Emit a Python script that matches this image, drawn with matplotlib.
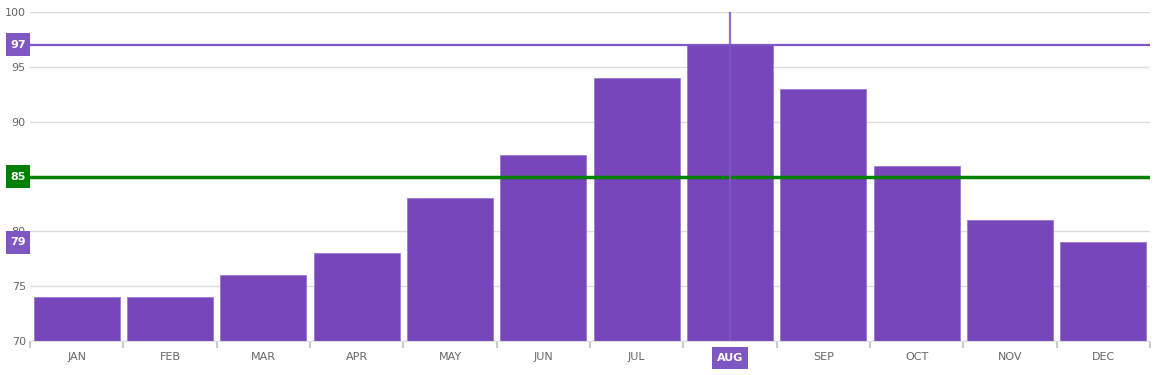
import matplotlib.pyplot as plt
import matplotlib.transforms as mtransforms
from matplotlib.patches import Rectangle
import numpy as np

# data
months = ['JAN', 'FEB', 'MAR', 'APR', 'MAY', 'JUN', 'JUL', 'AUG', 'SEP', 'OCT', 'NOV', 'DEC']
values = [74, 74, 76, 78, 83, 87, 94, 97, 93, 86, 81, 79]
target = 85
max_line = 97
cursor_value = 79
highlight = 'AUG'

bar_color = '#7646BA'
line_purple = '#7E57C2'
green = '#008000'

fig = plt.figure(figsize=(11.65, 3.75), dpi=100)
ax = fig.add_axes([30 / 1165, 34 / 375, 1120 / 1165, 329 / 375])

x = np.arange(len(months))
ax.bar(x, values, width=0.92, color=bar_color, edgecolor='#9a7ad0', linewidth=0.6, zorder=2)

ax.set_xlim(-0.5, len(months) - 0.5)
ax.set_ylim(70, 100)
ax.set_yticks(range(70, 101, 5))
ax.set_axisbelow(True)
ax.grid(axis='y', color='#dddddd', linewidth=1)

for s in ['top', 'right', 'left']:
    ax.spines[s].set_visible(False)
ax.spines['bottom'].set_color('#dddddd')

ax.tick_params(axis='y', length=0, labelsize=8, labelcolor='#666666', pad=3)
# category boundary ticks
ax.set_xticks(np.arange(-0.5, len(months)), minor=False)
ax.set_xticklabels([])
ax.tick_params(axis='x', which='major', length=5, color='#cccccc', width=1.5)
ax.set_xticks(x, minor=True)
ax.set_xticklabels([m if m != highlight else '' for m in months], minor=True)
ax.tick_params(axis='x', which='minor', length=0, labelsize=8, labelcolor='#666666', pad=8)

# reference lines
ax.axhline(max_line, color=line_purple, linewidth=1.6, zorder=3)
ax.axhline(target, color=green, linewidth=2.5, zorder=3)

hi = months.index(highlight)
ax.axvline(hi, color=line_purple, linewidth=1.6, alpha=0.85, zorder=3)

# value boxes on the y axis
trans_y = mtransforms.blended_transform_factory(ax.transAxes, ax.transData)
for val, col in [(max_line, line_purple), (target, green), (cursor_value, line_purple)]:
    ax.add_patch(Rectangle((-24 / 1120, val - 1.05), 24 / 1120, 2.1, transform=trans_y,
                           facecolor=col, edgecolor='none', clip_on=False, zorder=5))
    ax.text(-12 / 1120, val, str(val), transform=trans_y, ha='center', va='center',
            color='white', fontsize=8, fontweight='bold', clip_on=False, zorder=6)

# highlighted month label
trans_x = mtransforms.blended_transform_factory(ax.transData, ax.transAxes)
ax.add_patch(Rectangle((hi - 0.19, -28 / 329), 0.38, 22 / 329, transform=trans_x,
                       facecolor=line_purple, edgecolor='none', clip_on=False, zorder=5))
ax.text(hi, -17 / 329, highlight, transform=trans_x, ha='center', va='center',
        color='white', fontsize=8, fontweight='bold', clip_on=False, zorder=6)

fig.savefig('out.png', dpi=100)
